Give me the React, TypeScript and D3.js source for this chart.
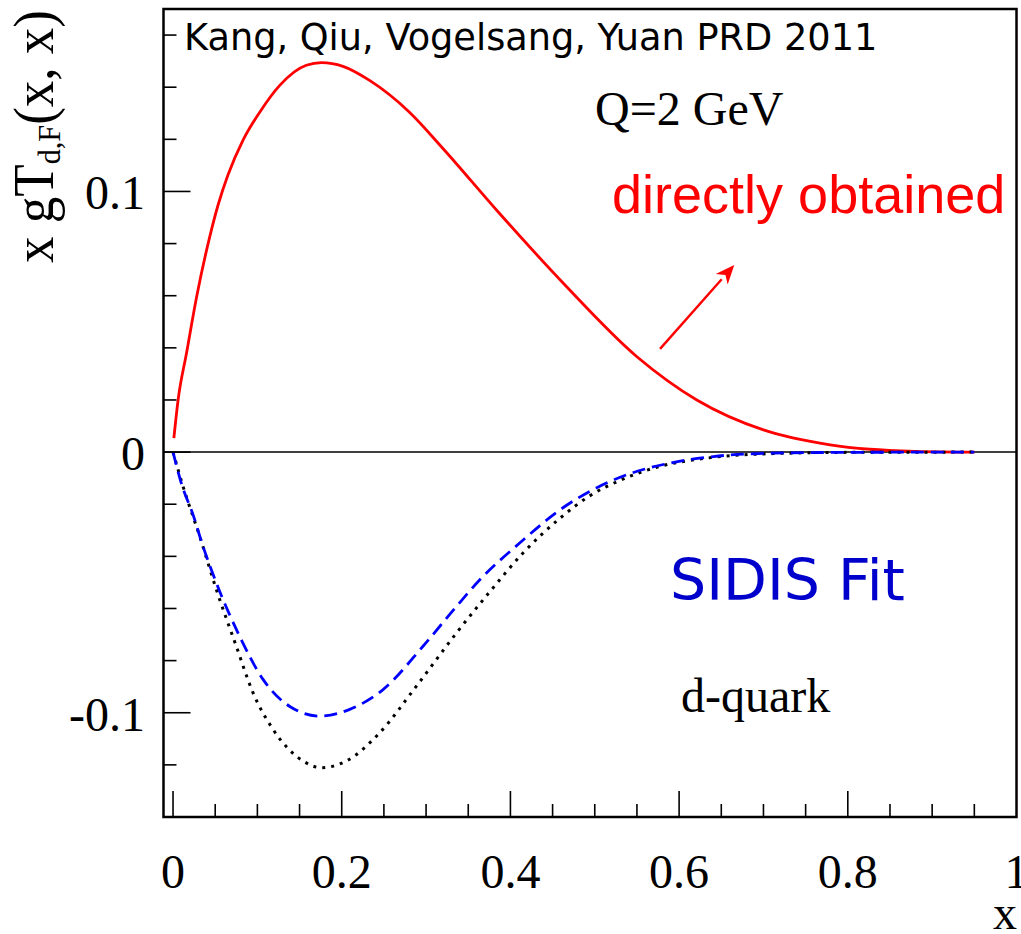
import React from "react";
import * as d3 from "d3";

// ---- data ----
const redX = [0.001, 0.006, 0.016, 0.028, 0.0435, 0.0534, 0.065, 0.083, 0.103, 0.1265, 0.158, 0.176, 0.2015, 0.233, 0.28, 0.32, 0.384, 0.463, 0.55, 0.621, 0.70, 0.779, 0.826, 0.88, 0.95];
const redY = [0.0054, 0.020, 0.038, 0.0596, 0.0826, 0.0948, 0.1062, 0.1197, 0.1305, 0.1407, 0.1484, 0.1494, 0.148, 0.1426, 0.1305, 0.1165, 0.0927, 0.0647, 0.0366, 0.020, 0.0085, 0.0028, 0.0011, 0.0003, 0.0];

const blueX = [0.0, 0.0098, 0.0237, 0.0356, 0.0514, 0.079, 0.1067, 0.138, 0.174, 0.2095, 0.249, 0.2964, 0.336, 0.364, 0.411, 0.459, 0.498, 0.538, 0.585, 0.6406, 0.7117, 0.8, 0.95];
const blueY = [0.0, -0.0119, -0.024, -0.0362, -0.0502, -0.0707, -0.0872, -0.0975, -0.1013, -0.0987, -0.0911, -0.0745, -0.0592, -0.0489, -0.0349, -0.0221, -0.0144, -0.0087, -0.0045, -0.0017, -0.0004, -0.0001, 0.0];

const blackX = [0.0, 0.0119, 0.0316, 0.0514, 0.075, 0.0948, 0.1186, 0.1541, 0.1758, 0.2055, 0.245, 0.2885, 0.336, 0.3758, 0.415, 0.459, 0.4944, 0.534, 0.577, 0.633, 0.7, 0.8, 0.95];
const blackY = [0.0, -0.0132, -0.0323, -0.0528, -0.0745, -0.0923, -0.1064, -0.1185, -0.1211, -0.1185, -0.1077, -0.0898, -0.0694, -0.0535, -0.0387, -0.0253, -0.0167, -0.0103, -0.0055, -0.0023, -0.0007, -0.0001, 0.0];

const xMajorTicks = [0, 0.2, 0.4, 0.6, 0.8, 1];
const xTickLabels = ["0", "0.2", "0.4", "0.6", "0.8", "1"];
const yMajorTicks = [-0.1, 0, 0.1];
const yTickLabels = ["-0.1", "0", "0.1"];

// ---- layout ----
const W = 1021;
const H = 934;
const L = 163.5, R = 1016.5, T = 9, B = 817;

export default function App() {
  const x = d3.scaleLinear().domain([-0.0113, 1]).range([L, R]);
  const y = d3.scaleLinear().domain([-0.14, 0.17]).range([B, T]);

  const line = d3
    .line<[number, number]>()
    .x((d) => x(d[0]))
    .y((d) => y(d[1]))
    .curve(d3.curveMonotoneX);

  const red = line(redX.map((v, i) => [v, redY[i]] as [number, number])) || "";
  const blue = line(blueX.map((v, i) => [v, blueY[i]] as [number, number])) || "";
  const black = line(blackX.map((v, i) => [v, blackY[i]] as [number, number])) || "";

  const xMinor = d3.range(0, 20).map((i) => i * 0.05).filter((v) => Math.abs(v * 5 - Math.round(v * 5)) > 1e-6);
  const yMinor = d3.range(-7, 9).map((i) => i * 0.02).filter((v) => Math.abs(v * 10 - Math.round(v * 10)) > 1e-6);

  const serif = "'Liberation Serif', 'Times New Roman', serif";
  const dejavu = "'DejaVu Sans', sans-serif";
  const arial = "'Liberation Sans', Arial, sans-serif";

  // arrow annotation (data coords)
  const a0 = [x(0.5774), y(0.0396)];
  const a1 = [x(0.6654), y(0.0718)];
  const ang = Math.atan2(a1[1] - a0[1], a1[0] - a0[0]);
  const hl = 19, hw = 8;
  const bx = a1[0] - hl * Math.cos(ang), by = a1[1] - hl * Math.sin(ang);
  const head = `M${a1[0]},${a1[1]} L${bx + hw * Math.sin(ang)},${by - hw * Math.cos(ang)} L${bx + 0.3 * hl * Math.cos(ang)},${by + 0.3 * hl * Math.sin(ang)} L${bx - hw * Math.sin(ang)},${by + hw * Math.cos(ang)} Z`;

  return (
    <svg width={W} height={H} style={{ position: "absolute", left: 0, top: 0, display: "block", background: "#fff" }}>
      <rect x={0} y={0} width={W} height={H} fill="#fff" />

      {/* zero line */}
      <line x1={L} x2={R} y1={y(0)} y2={y(0)} stroke="#000" strokeWidth={1.5} />

      {/* curves */}
      <path d={red} fill="none" stroke="#ff0000" strokeWidth={2.8} />
      <path d={black} fill="none" stroke="#000" strokeWidth={3} strokeDasharray="3 6" />
      <path d={blue} fill="none" stroke="#0000ff" strokeWidth={2.8} strokeDasharray="13 7" />

      {/* arrow */}
      <line x1={a0[0]} y1={a0[1]} x2={bx} y2={by} stroke="#ff0000" strokeWidth={2.4} />
      <path d={head} fill="#ff0000" />

      {/* ticks */}
      {xMajorTicks.slice(0, -1).map((v) => (
        <line key={"xM" + v} x1={x(v)} x2={x(v)} y1={B} y2={B - 26} stroke="#000" strokeWidth={1.6} />
      ))}
      {xMinor.map((v) => (
        <line key={"xm" + v} x1={x(v)} x2={x(v)} y1={B} y2={B - 13} stroke="#000" strokeWidth={1.6} />
      ))}
      {yMajorTicks.map((v) => (
        <line key={"yM" + v} x1={L} x2={L + 27} y1={y(v)} y2={y(v)} stroke="#000" strokeWidth={1.6} />
      ))}
      {yMinor.map((v) => (
        <line key={"ym" + v} x1={L} x2={L + 13} y1={y(v)} y2={y(v)} stroke="#000" strokeWidth={1.6} />
      ))}

      {/* frame */}
      <rect x={L} y={T} width={R - L} height={B - T} fill="none" stroke="#000" strokeWidth={2.5} />

      {/* tick labels */}
      {xMajorTicks.map((v, i) => (
        <text key={"xl" + v} x={x(v)} y={888} textAnchor="middle" fontFamily={serif} fontSize={48} fill="#000">
          {xTickLabels[i]}
        </text>
      ))}
      {yMajorTicks.map((v, i) => (
        <text key={"yl" + v} x={145} y={y(v) + 18} textAnchor="end" fontFamily={serif} fontSize={48} fill="#000">
          {yTickLabels[i]}
        </text>
      ))}

      {/* axis titles */}
      <text x={1017} y={929} textAnchor="end" fontFamily={serif} fontSize={48} fill="#000">x</text>
      <text
        transform="translate(53,263) rotate(-90)"
        fontFamily={serif}
        fontSize={56}
        fill="#000"
        textLength={253}
        lengthAdjust="spacingAndGlyphs"
      >
        <tspan>x g</tspan>
        <tspan>T</tspan>
        <tspan fontSize={32} dy={7}>d,F</tspan>
        <tspan dy={-7}>(x, x)</tspan>
      </text>

      {/* annotations */}
      <text x={x(0.013)} y={y(0.1541)} fontFamily={dejavu} fontSize={36.7} fill="#000">
        Kang, Qiu, Vogelsang, Yuan PRD 2011
      </text>
      <text x={x(0.5003)} y={y(0.1254)} fontFamily={serif} fontSize={48} fill="#000">
        Q=2 GeV
      </text>
      <text x={x(0.5205)} y={y(0.0916)} fontFamily={arial} fontSize={54} fill="#ff0000">
        directly obtained
      </text>
      <text x={x(0.5892)} y={y(-0.0566)} fontFamily={dejavu} fontSize={57} fill="#0000cc">
        SIDIS Fit
      </text>
      <text x={x(0.6023)} y={y(-0.0999)} fontFamily={serif} fontSize={48} fill="#000">
        d-quark
      </text>
    </svg>
  );
}
